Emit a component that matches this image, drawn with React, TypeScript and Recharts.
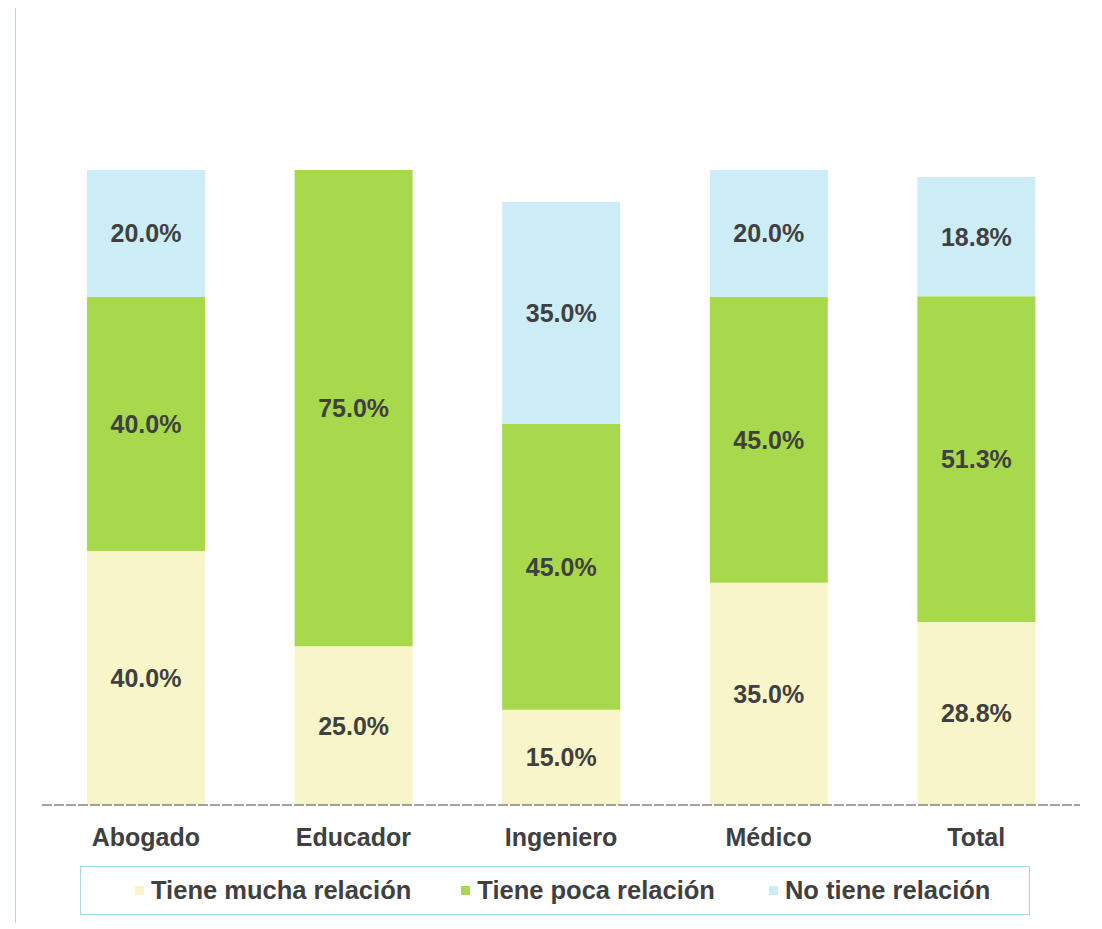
import { BarChart, Bar, XAxis, YAxis, LabelList, Legend } from 'recharts';

// Relación entre la profesión y el trabajo actual (%)
const categories = ['Abogado', 'Educador', 'Ingeniero', 'Médico', 'Total'];
const muchaRelacion = [40.0, 25.0, 15.0, 35.0, 28.8];
const pocaRelacion = [40.0, 75.0, 45.0, 45.0, 51.3];
const noRelacion = [20.0, 0, 35.0, 20.0, 18.8];

const seriesNames = ['Tiene mucha relación', 'Tiene poca relación', 'No tiene relación'];
const seriesColors = ['#f8f5c8', '#a8d84c', '#cdedf6'];
const legendGaps = [54, 50, 54];

const data = categories.map((name, i) => ({
  name,
  mucha: muchaRelacion[i],
  poca: pocaRelacion[i],
  no: noRelacion[i],
}));

const font = 'Liberation Sans, Arial, sans-serif';
const textColor = '#404040';
const labelStyle = { fontFamily: font, fontWeight: 700, fontSize: 25, fill: textColor };

const pct = (v: any) => (v ? `${Number(v).toFixed(1)}%` : '');

function LegendBox() {
  return (
    <div
      style={{
        border: '1px solid #a8d8ee',
        height: 49,
        display: 'flex',
        alignItems: 'center',
        fontFamily: font,
        fontWeight: 700,
        fontSize: 25.5,
        color: textColor,
        boxSizing: 'border-box',
      }}
    >
      {seriesNames.map((n, i) => (
        <div key={n} style={{ display: 'flex', alignItems: 'center', marginLeft: legendGaps[i] }}>
          <span style={{ width: 9, height: 9, background: seriesColors[i], marginRight: 7, display: 'inline-block' }} />
          <span>{n}</span>
        </div>
      ))}
    </div>
  );
}

export default function App() {
  return (
    <div
      style={{
        marginLeft: 7,
        marginTop: -1,
        width: 1100,
        height: 915,
        borderLeft: '1px solid #a8d8ee',
        borderTop: '1px solid #a8d8ee',
        background: '#fff',
      }}
    >
      <BarChart
        width={1086}
        height={912}
        data={data}
        margin={{ top: 162, right: 22, bottom: 36, left: 26 }}
      >
        <XAxis
          dataKey="name"
          axisLine={{ stroke: '#444', strokeDasharray: '10 2' }}
          tickLine={false}
          tickMargin={17}
          tick={labelStyle}
        />
        <YAxis hide domain={[0, 100]} />
        <Legend
          verticalAlign="bottom"
          content={() => <LegendBox />}
          wrapperStyle={{ left: 64, width: 950, bottom: 5 }}
        />
        <Bar dataKey="mucha" stackId="a" fill={seriesColors[0]} barSize={118} isAnimationActive={false}>
          <LabelList dataKey="mucha" position="center" formatter={pct} style={labelStyle} />
        </Bar>
        <Bar dataKey="poca" stackId="a" fill={seriesColors[1]} barSize={118} isAnimationActive={false}>
          <LabelList dataKey="poca" position="center" formatter={pct} style={labelStyle} />
        </Bar>
        <Bar dataKey="no" stackId="a" fill={seriesColors[2]} barSize={118} isAnimationActive={false}>
          <LabelList dataKey="no" position="center" formatter={pct} style={labelStyle} />
        </Bar>
      </BarChart>
    </div>
  );
}
